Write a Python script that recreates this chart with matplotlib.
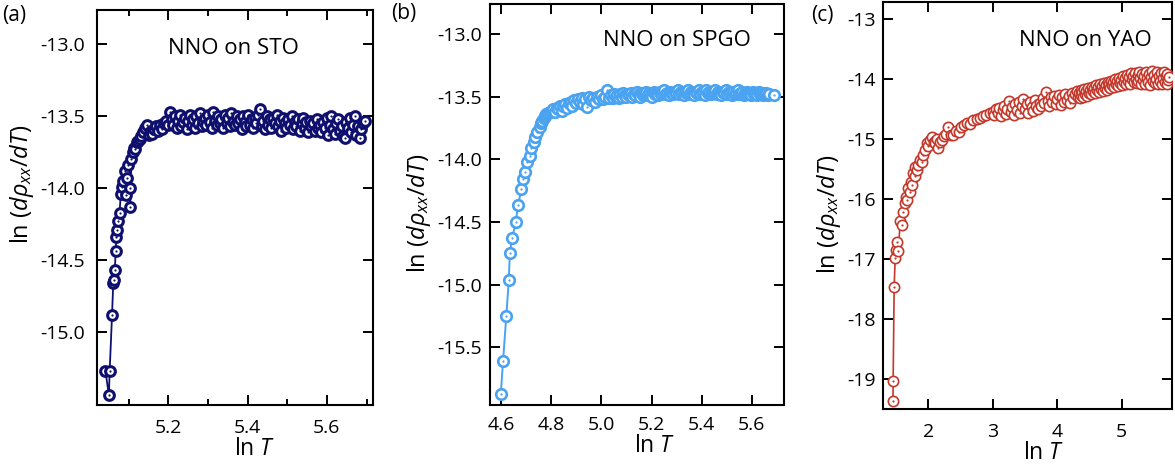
import matplotlib
matplotlib.use("Agg")
import matplotlib.pyplot as plt
from matplotlib.ticker import MultipleLocator, FixedLocator, FormatStrFormatter

plt.rcParams['font.family'] = ['Open Sans', 'DejaVu Sans']
plt.rcParams['mathtext.fontset'] = 'custom'
plt.rcParams['mathtext.rm'] = 'Open Sans'
plt.rcParams['mathtext.it'] = 'Open Sans:italic'
plt.rcParams['mathtext.bf'] = 'Open Sans:bold'

# ---------------- data ----------------
# (a) NNO on STO
lnT_sto = [5.041, 5.050, 5.052, 5.058, 5.061, 5.063, 5.065, 5.067, 5.069, 5.071,
           5.074, 5.077, 5.080, 5.083, 5.086, 5.090, 5.093, 5.096, 5.099, 5.102,
           5.104, 5.106, 5.110, 5.113, 5.116, 5.120, 5.124, 5.128, 5.132, 5.137,
           5.141, 5.146, 5.150, 5.155, 5.160, 5.165, 5.170, 5.175, 5.180, 5.185,
           5.190, 5.195, 5.200, 5.204,
           5.208, 5.212, 5.217, 5.221, 5.225, 5.229, 5.233, 5.238, 5.242, 5.246,
           5.250, 5.254, 5.259, 5.263, 5.267, 5.271, 5.275, 5.280, 5.284, 5.288,
           5.292, 5.296, 5.301, 5.305, 5.309, 5.313, 5.317, 5.322, 5.326, 5.330,
           5.334, 5.338, 5.343, 5.347, 5.351, 5.355, 5.359, 5.364, 5.368, 5.372,
           5.376, 5.380, 5.385, 5.389, 5.393, 5.397, 5.401, 5.406, 5.410, 5.414,
           5.418, 5.422, 5.427, 5.431, 5.435, 5.439, 5.443, 5.448, 5.452, 5.456,
           5.460, 5.464, 5.469, 5.473, 5.477, 5.481, 5.485, 5.490, 5.494, 5.498,
           5.502, 5.506, 5.511, 5.515, 5.519, 5.523, 5.527, 5.532, 5.536, 5.540,
           5.544, 5.548, 5.553, 5.557, 5.561, 5.565, 5.569, 5.574, 5.578, 5.582,
           5.586, 5.590, 5.595, 5.599, 5.603, 5.607, 5.611, 5.616, 5.620, 5.624,
           5.628, 5.632, 5.637, 5.641, 5.645, 5.649, 5.653, 5.658, 5.662, 5.666,
           5.670, 5.674, 5.679, 5.683, 5.687, 5.691, 5.695]
lnd_sto = [-15.27, -15.44, -15.27, -14.88, -14.66, -14.64, -14.57, -14.44, -14.34, -14.29,
           -14.23, -14.17, -14.04, -13.99, -13.95, -13.88, -14.05, -13.93, -13.84, -14.00,
           -14.13, -13.80, -13.75, -13.72, -13.73, -13.68, -13.67, -13.66, -13.64, -13.61,
           -13.58, -13.56, -13.63, -13.60, -13.62, -13.59, -13.57, -13.60, -13.56, -13.585,
           -13.55, -13.53, -13.56, -13.47,
           -13.52, -13.56, -13.50, -13.58, -13.53, -13.49, -13.57, -13.54, -13.51, -13.59,
           -13.53, -13.49, -13.56, -13.52, -13.58, -13.50, -13.55, -13.48, -13.57, -13.53,
           -13.51, -13.56, -13.49, -13.54, -13.58, -13.47, -13.53, -13.56, -13.50, -13.55,
           -13.52, -13.58, -13.49, -13.55, -13.51, -13.57, -13.48, -13.54, -13.56, -13.50,
           -13.55, -13.52, -13.59, -13.50, -13.54, -13.57, -13.49, -13.56, -13.52, -13.58,
           -13.51, -13.55, -13.49, -13.45, -13.57, -13.53, -13.59, -13.50, -13.56, -13.52,
           -13.58, -13.51, -13.55, -13.49, -13.57, -13.53, -13.60, -13.51, -13.55, -13.58,
           -13.52, -13.56, -13.50, -13.59, -13.54, -13.57, -13.52, -13.60, -13.55, -13.51,
           -13.58, -13.54, -13.61, -13.53, -13.57, -13.55, -13.60, -13.52, -13.58, -13.56,
           -13.61, -13.54, -13.58, -13.51, -13.63, -13.56, -13.50, -13.59, -13.62, -13.55,
           -13.52, -13.60, -13.57, -13.64, -13.65, -13.54, -13.58, -13.51, -13.61, -13.56,
           -13.50, -13.63, -13.57, -13.65, -13.59, -13.55, -13.53]

# (b) NNO on SPGO
lnT_spgo = [4.599, 4.608, 4.621, 4.631, 4.635, 4.644, 4.659, 4.668, 4.681, 4.688,
            4.697, 4.705, 4.715, 4.721, 4.731, 4.737, 4.745, 4.754, 4.760, 4.764,
            4.770, 4.774, 4.781, 4.788, 4.795, 4.802, 4.808, 4.815, 4.822, 4.828,
            4.836, 4.842, 4.848, 4.856, 4.863, 4.870, 4.877, 4.884, 4.891, 4.898,
            4.906, 4.913, 4.921, 4.928, 4.936, 4.944, 4.951, 4.959, 4.967, 4.975,
            4.983, 4.991, 4.999, 5.007, 5.015, 5.023, 5.031,
            5.040, 5.046, 5.052, 5.058, 5.064, 5.070, 5.076, 5.082, 5.088, 5.094,
            5.100, 5.106, 5.112, 5.118, 5.124, 5.130, 5.136, 5.142, 5.148, 5.154,
            5.160, 5.166, 5.172, 5.178, 5.184, 5.190, 5.196, 5.202, 5.208, 5.214,
            5.220, 5.226, 5.232, 5.238, 5.244, 5.250, 5.256, 5.262, 5.268, 5.274,
            5.280, 5.286, 5.292, 5.298, 5.304, 5.310, 5.316, 5.322, 5.328, 5.334,
            5.340, 5.346, 5.352, 5.358, 5.364, 5.370, 5.376, 5.382, 5.388, 5.394,
            5.400, 5.406, 5.412, 5.418, 5.424, 5.430, 5.436, 5.442, 5.448, 5.454,
            5.460, 5.466, 5.472, 5.478, 5.484, 5.490, 5.496, 5.502, 5.508, 5.514,
            5.520, 5.526, 5.532, 5.538, 5.544, 5.550, 5.556, 5.562, 5.568, 5.574,
            5.580, 5.586, 5.592, 5.598, 5.604, 5.610, 5.616, 5.622, 5.628, 5.634,
            5.640, 5.646, 5.652, 5.658, 5.664, 5.670, 5.690]
lnd_spgo = [-15.87, -15.61, -15.25, -14.96, -14.75, -14.63, -14.50, -14.36, -14.24, -14.16,
            -14.10, -14.02, -13.97, -13.91, -13.86, -13.82, -13.78, -13.74, -13.71, -13.69,
            -13.67, -13.65, -13.64, -13.63, -13.62, -13.61, -13.60, -13.62, -13.59, -13.60,
            -13.57, -13.61, -13.57, -13.56, -13.59, -13.55, -13.54, -13.57, -13.53, -13.55,
            -13.52, -13.54, -13.51, -13.56, -13.52, -13.58, -13.50, -13.53, -13.51, -13.54,
            -13.50, -13.52, -13.49, -13.52, -13.50, -13.45, -13.51,
            -13.49, -13.51, -13.48, -13.50, -13.49, -13.51, -13.48, -13.50, -13.47, -13.49,
            -13.50, -13.48, -13.49, -13.47, -13.50, -13.48, -13.49, -13.46, -13.48, -13.50,
            -13.47, -13.49, -13.48, -13.46, -13.49, -13.47, -13.48, -13.50, -13.46, -13.48,
            -13.47, -13.49, -13.46, -13.48, -13.47, -13.45, -13.48, -13.47, -13.49, -13.46,
            -13.47, -13.48, -13.46, -13.47, -13.45, -13.48, -13.46, -13.47, -13.49, -13.46,
            -13.47, -13.45, -13.48, -13.46, -13.47, -13.49, -13.46, -13.47, -13.45, -13.48,
            -13.46, -13.47, -13.49, -13.45, -13.47, -13.46, -13.48, -13.46, -13.47, -13.45,
            -13.48, -13.46, -13.47, -13.49, -13.46, -13.47, -13.45, -13.48, -13.46, -13.47,
            -13.49, -13.46, -13.48, -13.47, -13.45, -13.48, -13.47, -13.46, -13.49, -13.47,
            -13.46, -13.48, -13.47, -13.49, -13.46, -13.48, -13.47, -13.49, -13.46, -13.48,
            -13.47, -13.49, -13.48, -13.47, -13.49, -13.48, -13.49]

# (c) NNO on YAO
lnT_yao = [1.450, 1.452, 1.468, 1.484, 1.500, 1.518, 1.535, 1.561, 1.590, 1.612,
           1.639, 1.654, 1.672, 1.690, 1.708, 1.727, 1.745, 1.767, 1.785, 1.794,
           1.820, 1.845, 1.871, 1.897, 1.922, 1.950, 1.975, 2.000, 2.026, 2.053,
           2.080, 2.104, 2.130, 2.155, 2.180, 2.208, 2.240, 2.270, 2.310, 2.345,
           2.388, 2.430, 2.470, 2.510, 2.550, 2.595, 2.640, 2.698, 2.750, 2.800,
           2.850, 2.900, 2.957,
           3.000, 3.025, 3.050, 3.075, 3.100, 3.125, 3.150, 3.175, 3.200, 3.225,
           3.250, 3.275, 3.300, 3.325, 3.350, 3.375, 3.400, 3.425, 3.450, 3.475,
           3.500, 3.525, 3.550, 3.575, 3.600, 3.625, 3.650, 3.675, 3.700, 3.725,
           3.750, 3.775, 3.800, 3.825, 3.850, 3.875, 3.900, 3.925, 3.950, 3.975,
           4.000, 4.025, 4.050, 4.075, 4.100, 4.125, 4.150, 4.175, 4.200, 4.225,
           4.250, 4.275,
           4.300, 4.315, 4.330, 4.345, 4.360, 4.375, 4.390, 4.405, 4.420, 4.435,
           4.450, 4.465, 4.480, 4.495, 4.510, 4.525, 4.540, 4.555, 4.570, 4.585,
           4.600, 4.615, 4.630, 4.645, 4.660, 4.675, 4.690, 4.705, 4.720, 4.735,
           4.750, 4.765, 4.780, 4.795, 4.810, 4.825, 4.840, 4.855, 4.870, 4.885,
           4.900, 4.915, 4.930, 4.945, 4.960, 4.975, 4.990, 5.005, 5.020, 5.035,
           5.050, 5.065, 5.080, 5.095, 5.110, 5.125, 5.140, 5.155, 5.170, 5.185,
           5.200, 5.215, 5.230, 5.245, 5.260, 5.275, 5.290, 5.305, 5.320, 5.335,
           5.350, 5.365, 5.380, 5.395, 5.410, 5.425, 5.440, 5.455, 5.470, 5.485,
           5.500, 5.515, 5.530, 5.545, 5.560, 5.575, 5.590, 5.605, 5.620, 5.635,
           5.650, 5.665, 5.680, 5.695, 5.710, 5.725, 5.740]
lnd_yao = [-19.36, -19.03, -17.46, -16.98, -16.85, -16.72, -16.87, -16.36, -16.43, -16.21,
           -16.07, -15.96, -16.02, -15.82, -15.88, -15.71, -15.76, -15.57, -15.62, -15.46,
           -15.52, -15.43, -15.35, -15.38, -15.26, -15.18, -15.07, -15.12, -15.01, -14.96,
           -15.05, -15.07, -15.00, -15.15, -15.04, -15.01, -14.95, -14.92, -14.79, -14.93,
           -14.93, -14.86, -14.88, -14.80, -14.76, -14.73, -14.74, -14.68, -14.66, -14.65,
           -14.62, -14.60, -14.57,
           -14.55, -14.60, -14.50, -14.57, -14.48, -14.62, -14.52, -14.45, -14.58, -14.49,
           -14.36, -14.55, -14.47, -14.60, -14.42, -14.52, -14.38, -14.57, -14.45, -14.33,
           -14.50, -14.41, -14.56, -14.37, -14.47, -14.53, -14.35, -14.44, -14.50, -14.39,
           -14.45, -14.31, -14.40, -14.21, -14.36, -14.44, -14.30, -14.38, -14.27, -14.41,
           -14.33, -14.26, -14.43, -14.30, -14.37, -14.24, -14.34, -14.28, -14.39, -14.22,
           -14.31, -14.25,
           -14.20, -14.29, -14.23, -14.31, -14.18, -14.26, -14.21, -14.30, -14.16, -14.24,
           -14.19, -14.27, -14.14, -14.22, -14.17, -14.25, -14.12, -14.20, -14.15, -14.23,
           -14.10, -14.18, -14.13, -14.21, -14.08, -14.16, -14.11, -14.19, -14.06, -14.14,
           -14.09, -14.17, -14.04, -14.12, -14.07, -14.15, -14.02, -14.10, -14.05, -14.13,
           -14.00, -14.08, -14.03, -14.11, -13.97, -14.06, -14.01, -14.09, -13.95, -14.04,
           -13.98, -14.07, -13.92, -14.02, -13.96, -14.08, -13.90, -14.00, -13.94, -14.05,
           -13.89, -13.99, -14.06, -13.93, -14.02, -13.87, -13.97, -14.08, -13.91, -14.01,
           -13.95, -14.07, -13.88, -13.98, -14.04, -13.91, -14.09, -13.96, -13.86, -14.02,
           -13.93, -14.06, -13.99, -13.87, -14.08, -13.95, -14.03, -13.90, -14.07, -13.97,
           -13.88, -14.04, -13.94, -14.08, -13.91, -14.01, -13.96]

titles = ["NNO on STO", "NNO on SPGO", "NNO on YAO"]
panel_labels = ["(a)", "(b)", "(c)"]
colors = ["#0f0f6e", "#4aa3f0", "#c4382b"]
yticks_a = [-15.0, -14.5, -14.0, -13.5, -13.0]
yticks_b = [-15.5, -15.0, -14.5, -14.0, -13.5, -13.0]
yticks_c = [-19, -18, -17, -16, -15, -14, -13]

# ---------------- figure ----------------
W, H = 1175, 472
fig = plt.figure(figsize=(W / 100, H / 100), dpi=100)

def px_axes(l, r, t, b):
    return fig.add_axes([l / W, 1 - b / H, (r - l) / W, (b - t) / H])

ax_a = px_axes(97, 372.5, 10, 405)
ax_b = px_axes(490, 783.5, 4, 405)
ax_c = px_axes(882.5, 1172, 2, 409)
axes = [ax_a, ax_b, ax_c]

datasets = [(lnT_sto, lnd_sto), (lnT_spgo, lnd_spgo), (lnT_yao, lnd_yao)]
msz = [7.0, 7.6, 7.4]
mew = [2.2, 1.9, 1.2]
lw = [1.3, 1.4, 1.2]

for ax, (x, y), c, ms, ew, l in zip(axes, datasets, colors, msz, mew, lw):
    ax.plot(x, y, '-', color=c, lw=l, zorder=2)
    # open circle with a small centre dot, drawn point by point so each
    # circle covers the dot of the previous one (as in the original)
    for xi, yi in zip(x, y):
        ax.plot([xi], [yi], linestyle='none', marker='o', ms=ms, mfc='white',
                mec=c, mew=ew, zorder=3)
        ax.plot([xi], [yi], linestyle='none', marker='o', ms=1.6, mfc=c,
                mec=c, mew=0, zorder=3)

ax_a.set_xlim(5.02, 5.715)
ax_a.set_ylim(-15.51, -12.76)
ax_a.xaxis.set_major_locator(MultipleLocator(0.2))
ax_a.xaxis.set_minor_locator(MultipleLocator(0.1))
ax_a.yaxis.set_major_locator(FixedLocator(yticks_a))
ax_a.xaxis.set_major_formatter(FormatStrFormatter('%.1f'))
ax_a.yaxis.set_major_formatter(FormatStrFormatter('%.1f'))

ax_b.set_xlim(4.556, 5.726)
ax_b.set_ylim(-15.96, -12.76)
ax_b.xaxis.set_major_locator(MultipleLocator(0.2))
ax_b.yaxis.set_major_locator(FixedLocator(yticks_b))
ax_b.xaxis.set_major_formatter(FormatStrFormatter('%.1f'))
ax_b.yaxis.set_major_formatter(FormatStrFormatter('%.1f'))

ax_c.set_xlim(1.287, 5.78)
ax_c.set_ylim(-19.5, -12.71)
ax_c.xaxis.set_major_locator(MultipleLocator(1))
ax_c.yaxis.set_major_locator(FixedLocator(yticks_c))
ax_c.xaxis.set_major_formatter(FormatStrFormatter('%d'))
ax_c.yaxis.set_major_formatter(FormatStrFormatter('%d'))

ylabel = r'ln $(d\rho_{xx}/dT)$'
text_pos = [(233, 49), (677, 40), (1085, 40)]
plab_pos = [(2, 16), (391, 13), (811, 15)]
ypads = [8.5, 5.5, 5.0]
xpads = [10, 8, 10]
xlab_x = [0.573, 0.562, 0.558]
ylab_y = [0.56, 0.479, 0.479]

for ax, t, tp, pl, pp, yp, xp, lx, ly in zip(axes, titles, text_pos, panel_labels,
                                              plab_pos, ypads, xpads, xlab_x, ylab_y):
    for s in ax.spines.values():
        s.set_linewidth(1.5)
    ax.tick_params(which='both', direction='in', top=True, right=True,
                   labelsize=14, width=1.4)
    ax.tick_params(axis='y', pad=yp)
    ax.tick_params(axis='x', pad=xp)
    ax.tick_params(which='major', length=7)
    ax.tick_params(which='minor', length=4)
    ax.set_xlabel(r'ln $T$', fontsize=16.5, labelpad=0, x=lx)
    ax.set_ylabel(ylabel, fontsize=17, labelpad=3, y=ly)
    fig.text(tp[0] / W, 1 - tp[1] / H, t, ha='center', va='center', fontsize=16)
    fig.text(pp[0] / W, 1 - pp[1] / H, pl, ha='left', va='center', fontsize=15)

fig.savefig('out.png', dpi=100)
